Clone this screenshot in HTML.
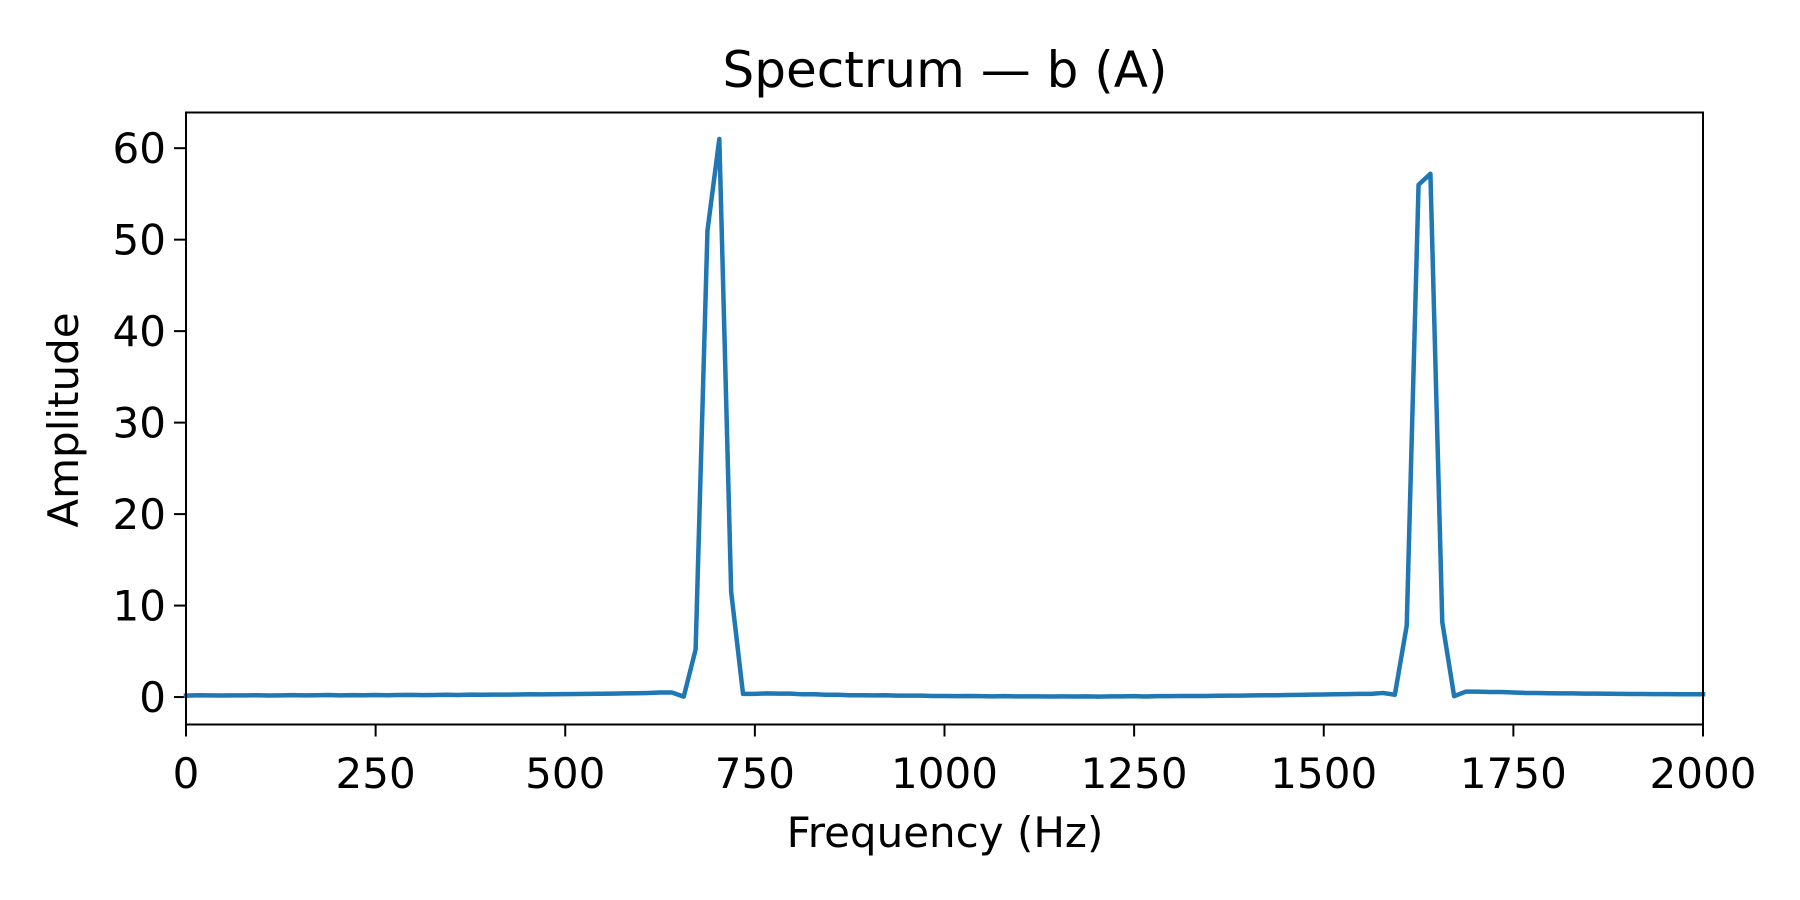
<!DOCTYPE html>
<html><head><meta charset="utf-8"><style>
html,body{margin:0;padding:0;background:#fff;}
svg{display:block;font-family:"DejaVu Sans","Liberation Sans",sans-serif;}
</style></head><body>
<svg id="chart" width="1800" height="900" viewBox="0 0 1800 900">
<rect x="0" y="0" width="1800" height="900" fill="#fff"/>
<text x="945" y="87" text-anchor="middle" font-size="50" fill="#000">Spectrum — b (A)</text>
<g id="xticks"></g>
<g id="yticks"></g>
<path id="line" fill="none" stroke="#1f77b4" stroke-width="4.5" stroke-linejoin="round" stroke-linecap="square"/>
<rect x="186" y="112.5" width="1517" height="612" fill="none" stroke="#000" stroke-width="2"/>
<text x="945" y="847" text-anchor="middle" font-size="42" fill="#000">Frequency (Hz)</text>
<text x="0" y="0" transform="translate(78,420) rotate(-90)" text-anchor="middle" font-size="42" fill="#000">Amplitude</text>
</svg>
<script>
const binWidth = 15.625;
const amplitudes = [
0.15,0.2,0.18,0.17,0.19,0.18,0.2,0.17,0.19,0.21,
0.18,0.2,0.22,0.19,0.21,0.2,0.23,0.2,0.22,0.24,
0.21,0.23,0.25,0.23,0.26,0.25,0.27,0.26,0.28,0.3,
0.29,0.31,0.32,0.33,0.35,0.36,0.38,0.4,0.42,0.45,
0.5,0.5,0.05,5.2,51,61,11.5,0.35,0.35,0.4,
0.38,0.37,0.3,0.3,0.25,0.25,0.2,0.2,0.18,0.2,
0.15,0.15,0.16,0.12,0.12,0.1,0.12,0.1,0.08,0.1,
0.08,0.07,0.08,0.06,0.07,0.06,0.08,0.05,0.08,0.07,
0.1,0.06,0.1,0.1,0.12,0.12,0.12,0.14,0.15,0.16,
0.18,0.2,0.2,0.22,0.24,0.26,0.28,0.3,0.32,0.35,
0.35,0.45,0.25,7.8,56,57.2,8.2,0.1,0.6,0.6,
0.55,0.55,0.5,0.45,0.45,0.42,0.4,0.4,0.38,0.37,
0.36,0.35,0.34,0.33,0.32,0.32,0.31,0.3,0.3
];
const xTicks = [0,250,500,750,1000,1250,1500,1750,2000];
const yTicks = [0,10,20,30,40,50,60];
const X0=186,X1=1703,YT=112.5,YB=724.5;
const xMin=0,xMax=2000,yMin=-3.0,yMax=63.9;
function sx(v){return X0+(v-xMin)/(xMax-xMin)*(X1-X0);}
function sy(v){return YB-(v-yMin)/(yMax-yMin)*(YB-YT);}
const NS="http://www.w3.org/2000/svg";
let d="";
amplitudes.forEach((a,i)=>{const f=Math.min(i*binWidth,xMax);d+=(i?"L":"M")+sx(f).toFixed(2)+","+sy(a).toFixed(2);});
document.getElementById("line").setAttribute("d",d);
const xg=document.getElementById("xticks");
xTicks.forEach(t=>{
 const l=document.createElementNS(NS,"line");
 l.setAttribute("x1",sx(t));l.setAttribute("x2",sx(t));l.setAttribute("y1",YB);l.setAttribute("y2",YB+12);
 l.setAttribute("stroke","#000");l.setAttribute("stroke-width","2");
 
 
 xg.appendChild(l);
 const tx=document.createElementNS(NS,"text");
 tx.setAttribute("x",sx(t));tx.setAttribute("y",788);tx.setAttribute("text-anchor","middle");tx.setAttribute("font-size","42");
 tx.textContent=t;
 
 
 xg.appendChild(tx);
});
const yg=document.getElementById("yticks");
yTicks.forEach(t=>{
 const l=document.createElementNS(NS,"line");
 l.setAttribute("x1",X0-12);l.setAttribute("x2",X0);l.setAttribute("y1",sy(t));l.setAttribute("y2",sy(t));
 l.setAttribute("stroke","#000");l.setAttribute("stroke-width","2");
 
 
 yg.appendChild(l);
 const tx=document.createElementNS(NS,"text");
 tx.setAttribute("x",X0-20);tx.setAttribute("y",sy(t)+15);tx.setAttribute("text-anchor","end");tx.setAttribute("font-size","42");
 tx.textContent=t;
 
 
 yg.appendChild(tx);
});
</script>
</body></html>
